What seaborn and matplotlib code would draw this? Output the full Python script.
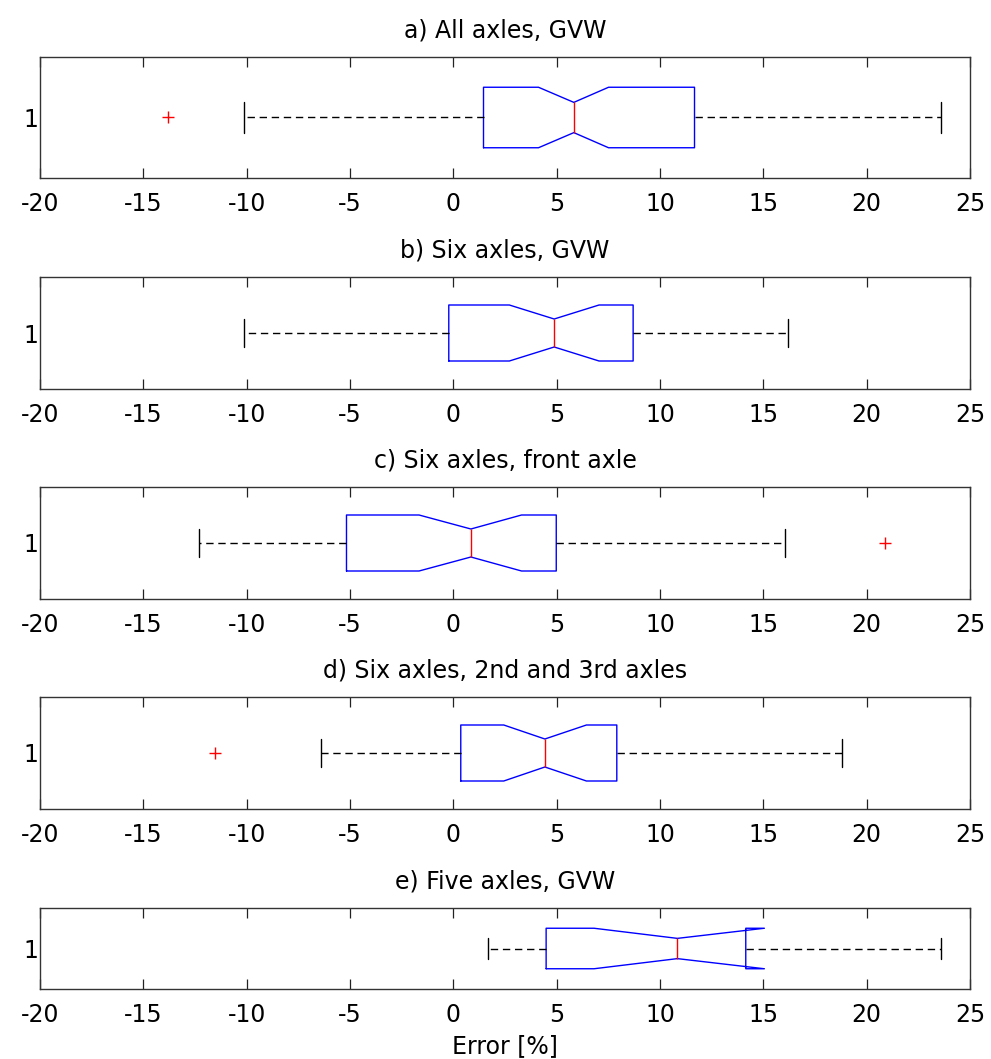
import numpy as np
import matplotlib
matplotlib.use("Agg")
import matplotlib.pyplot as plt
import seaborn as sns

# Summary statistics of the weighing error (%) for each vehicle group
titles = [
    "a) All axles, GVW",
    "b) Six axles, GVW",
    "c) Six axles, front axle",
    "d) Six axles, 2nd and 3rd axles",
    "e) Five axles, GVW",
]
whisker_low = [-10.13, -10.13, -12.33, -6.40, 1.70]
q1 = [1.46, -0.22, -5.17, 0.36, 4.49]
notch_low = [4.12, 2.71, -1.66, 2.44, 6.81]
median = [5.83, 4.88, 0.85, 4.43, 10.84]
notch_high = [7.51, 7.05, 3.30, 6.44, 15.05]
q3 = [11.67, 8.70, 4.98, 7.91, 14.15]
whisker_high = [23.62, 16.20, 16.07, 18.83, 23.62]
outliers = [[-13.79], [], [20.87], [-11.53], []]

xticks = [-20, -15, -10, -5, 0, 5, 10, 15, 20, 25]
xlabel = "Error [%]"

sns.set_style("ticks")
plt.rcParams["font.family"] = ["DejaVu Sans"]
plt.rcParams["font.size"] = 17
plt.rcParams["text.color"] = "black"
plt.rcParams["axes.labelcolor"] = "black"
plt.rcParams["xtick.color"] = "black"
plt.rcParams["ytick.color"] = "black"

W, H = 991, 1059
fig = plt.figure(figsize=(W / 100, H / 100), dpi=100)

# axes extents in pixels: (top, bottom)
rows_px = [(57, 178), (277, 389), (487, 599), (697, 809), (908, 989)]
left_px, right_px = 40, 970

for i, (top, bot) in enumerate(rows_px):
    ax = fig.add_axes([left_px / W, 1 - bot / H, (right_px - left_px) / W, (bot - top) / H])
    stats = [{
        "whislo": whisker_low[i],
        "q1": q1[i],
        "cilo": notch_low[i],
        "med": median[i],
        "cihi": notch_high[i],
        "q3": q3[i],
        "whishi": whisker_high[i],
        "fliers": np.array(outliers[i]),
    }]
    ax.bxp(
        stats,
        positions=[1],
        widths=0.5,
        orientation="horizontal",
        shownotches=True,
        boxprops=dict(color="#0000ff", linewidth=1.0),
        medianprops=dict(color="#ff0000", linewidth=1.0),
        whiskerprops=dict(color="black", linewidth=1.0, linestyle=(0, (5.3, 3.4))),
        capprops=dict(color="black", linewidth=1.0),
        flierprops=dict(marker="+", markeredgecolor="#ff0000", markersize=9,
                        markeredgewidth=1.0, linestyle="none"),
    )
    ax.set_xlim(-20, 25)
    ax.set_ylim(0.5, 1.5)
    ax.set_xticks(xticks)
    ax.set_xticklabels([str(t) for t in xticks])
    ax.set_yticks([1])
    ax.set_yticklabels(["1"])
    ax.tick_params(axis="x", direction="in", length=7, width=0.9, color="#222222",
                   top=True, bottom=True, pad=10, labelsize=17, labelcolor="black")
    ax.tick_params(axis="y", length=0, pad=1, labelsize=17, labelcolor="black")
    for s in ax.spines.values():
        s.set_visible(True)
        s.set_color("#333333")
        s.set_linewidth(1.0)
    ax.set_title(titles[i], fontsize=17, pad=14, color="black")
    if i == len(rows_px) - 1:
        ax.set_xlabel(xlabel, fontsize=17, labelpad=5, color="black")

fig.savefig("out.png", dpi=100, facecolor="white")
